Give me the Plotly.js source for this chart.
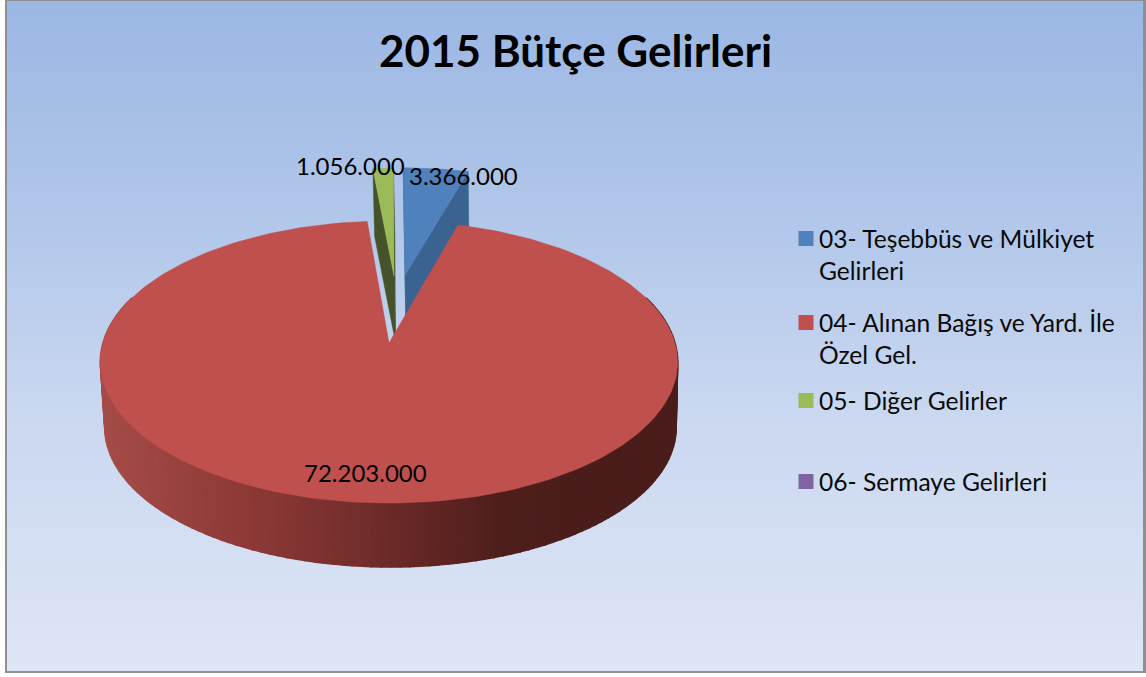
<!DOCTYPE html>
<html><head><meta charset="utf-8">
<script src="https://cdn.plot.ly/plotly-3.0.1.min.js"></script>
<style>
html,body{margin:0;padding:0;background:#fff;overflow:hidden}
#frame{position:absolute;left:5px;top:-1px;width:1136px;height:670px;border:2px solid #8f8f8f;border-right-width:3px;
background:linear-gradient(180deg,#9bb7e4 0%,#b3c8ea 35%,#c9d7f0 60%,#dee6f6 100%)}
#chart{position:absolute;left:0;top:0;width:1146px;height:677px}
</style></head><body>
<div id="frame"></div><div id="chart"></div>
<script>
const categories=["03- Teşebbüs ve Mülkiyet<br>Gelirleri","04- Alınan Bağış ve Yard. İle<br>Özel Gel.","05- Diğer Gelirler","06- Sermaye Gelirleri"];
const values=[3366000,72203000,1056000,0];
const colors=["#4F81BD","#C0504D","#9BBB59","#8064A2"];
const sideColors=["#3A6391","#C0504D","#46532A","#8064A2"];

const W=1146,H=677,k=0.135;
const top3d={cx:389,cy:343,rx:286,ry:138.5};
const bot3d={cx:390.5,cy:408.6,rx:283,ry:137};
const explode=[[0.06,0.525],[0,0],[0.0187,0.52],[0,0]];
const deg=Math.PI/180;
function proj(p,u,v){const w=1+k*v;return [p.cx+p.rx*u/w,p.cy-p.ry*v/w];}
function poly(pts,color,lw){return {type:'scatter',mode:'lines',x:pts.map(a=>a[0]).concat(pts[0][0]),y:pts.map(a=>a[1]).concat(pts[0][1]),
  fill:'toself',fillcolor:color,line:{color:color,width:lw||0.5},hoverinfo:'skip',showlegend:false};}
const total=values.reduce((a,b)=>a+b,0);
let start=0;const slices=values.map((v,i)=>{const a={i,a0:start,a1:start+v/total*360};start=a.a1;return a;});
function arc(p,s,du,dv,n){const o=[];for(let j=0;j<=n;j++){const t=(s.a0+(s.a1-s.a0)*j/n)*deg;o.push(proj(p,Math.sin(t)+du,Math.cos(t)+dv));}return o;}
const stops=[[100,[166,76,72]],[250,[140,57,54]],[389,[108,42,40]],[500,[78,30,28]],[570,[74,29,27]],[700,[74,29,27]]];
function wallColor(x){for(let i=0;i<stops.length-1;i++){const a=stops[i],b=stops[i+1];if(x<=b[0]){const f=Math.max(0,(x-a[0])/(b[0]-a[0]));
  return 'rgb('+a[1].map((c,j)=>Math.round(c+(b[1][j]-c)*f)).join(',')+')';}}return 'rgb(74,29,27)';}

const traces=[];
// exploded small slices (behind the big one)
[0,2].forEach(i=>{const s=slices[i],[du,dv]=explode[i];
  [s.a0,s.a1].forEach(a=>{const t=a*deg,u=Math.sin(t)+du,v=Math.cos(t)+dv;
    traces.push(poly([proj(top3d,du,dv),proj(top3d,u,v),proj(bot3d,u,v),proj(bot3d,du,dv)],sideColors[i]));});
  traces.push(poly([proj(top3d,du,dv)].concat(arc(top3d,s,du,dv,12)),colors[i]));
});
// outer wall of the large slice
const N=130;
for(let j=0;j<N;j++){const t0=(70+220*j/N)*deg,t1=(70+220*(j+1)/N)*deg;
  const a=proj(top3d,Math.sin(t0),Math.cos(t0)),b=proj(top3d,Math.sin(t1),Math.cos(t1)),
        c=proj(bot3d,Math.sin(t1),Math.cos(t1)),d=proj(bot3d,Math.sin(t0),Math.cos(t0));
  traces.push(poly([a,b,c,d],wallColor((a[0]+b[0]+c[0]+d[0])/4),1.6));
}
// top face of the large slice
traces.push(poly([proj(top3d,0,0)].concat(arc(top3d,slices[1],0,0,240)),colors[1]));

// legend entries
categories.forEach((c,i)=>traces.push({type:'scatter',mode:'markers',x:[null],y:[null],name:c,
  marker:{symbol:'square',size:15,color:colors[i]},legend:i?'legend'+(i+1):'legend',hoverinfo:'skip'}));

const fmt=v=>String(v).replace(/\B(?=(\d{3})+$)/g,'.');
const font="Lato, 'Open Sans', sans-serif";
const labelPos=[[463,175],[365,472],[350,165]];
const annotations=labelPos.map((p,i)=>({x:p[0],y:p[1],xref:'x',yref:'y',text:fmt(values[i]),showarrow:false,
  font:{family:font,size:24,color:'#000'},xanchor:'center',yanchor:'middle'}));
function leg(top){return {x:779/W,y:1-top/H,xanchor:'left',yanchor:'top',bgcolor:'rgba(0,0,0,0)',borderwidth:0,
  font:{family:font,size:24.6,color:'#0a0a0a'},itemwidth:30,itemclick:false,itemdoubleclick:false};}
const layout={width:W,height:H,margin:{l:0,r:0,t:0,b:0,pad:0},paper_bgcolor:'rgba(0,0,0,0)',plot_bgcolor:'rgba(0,0,0,0)',
  title:{text:'<b>2015 Bütçe Gelirleri</b>',x:575.5/W,xanchor:'center',y:1-52/H,yanchor:'middle',font:{family:font,size:44,color:'#000'}},
  xaxis:{visible:false,range:[0,W],fixedrange:true},yaxis:{visible:false,range:[H,0],fixedrange:true},
  showlegend:true,legend:leg(216),legend2:leg(300),legend3:leg(378),legend4:leg(459),annotations};
Plotly.newPlot('chart',traces,layout,{displayModeBar:false,staticPlot:true}).then(()=>{
  // keys sit beside the first line of each entry, closer to the text than the default
  document.querySelectorAll('.legendsymbols').forEach((g,i)=>{
    g.setAttribute('transform','translate(7,'+(i<2?-16:0)+')');
  });
});
</script></body></html>
